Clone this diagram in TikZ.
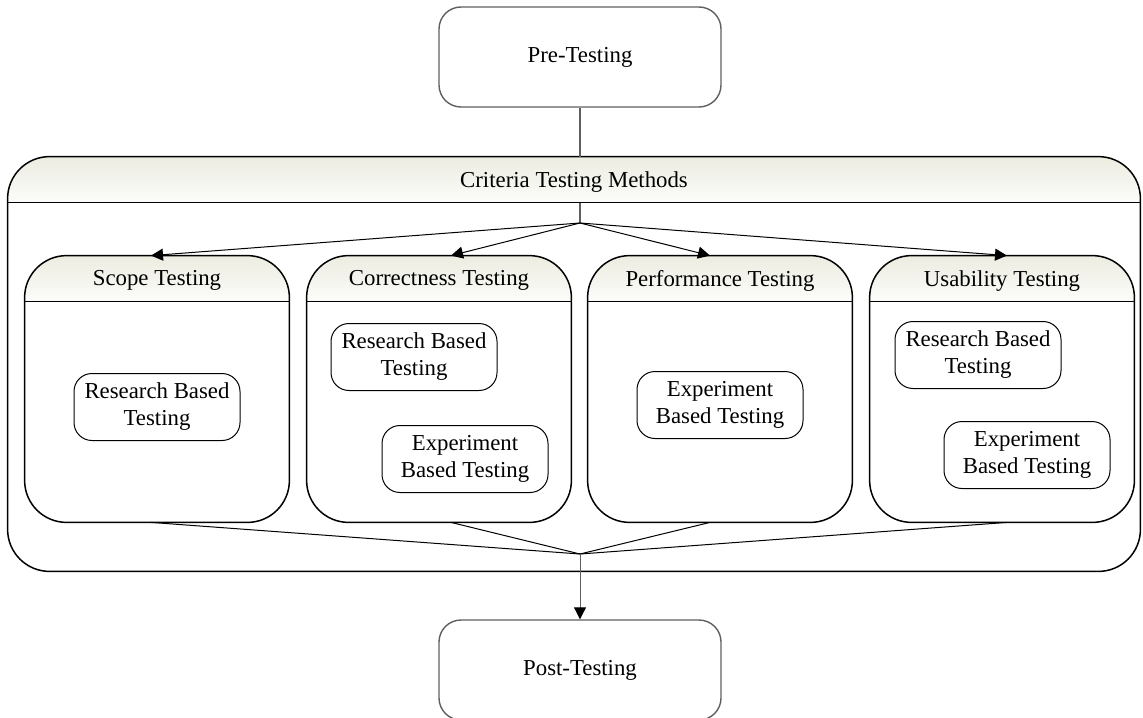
\documentclass[tikz,border=0pt]{standalone}
\usepackage{fontspec}
\setmainfont{Liberation Serif}
\usetikzlibrary{shapes,arrows.meta,positioning}

\definecolor{hdrtop}{RGB}{236,236,225}
\definecolor{hdrbot}{RGB}{252,252,250}
\definecolor{framegray}{RGB}{95,95,95}

\begin{document}
\begin{tikzpicture}[x=0.5pt, y=-0.5pt, font=\fontsize{11.4}{13.5}\selectfont]

    % Define block styles
    \tikzstyle{block} = [rectangle, draw=framegray, line width=0.7pt,
        text centered, rounded corners=11pt, minimum width=141pt, minimum height=50pt]
    \tikzstyle{frame} = [rectangle, inner sep=0pt, minimum width=132pt, minimum height=133pt]
    \tikzstyle{method} = [rectangle, draw, line width=0.5pt, rounded corners=9pt,
        align=center, inner sep=0pt, minimum width=83pt, minimum height=33.5pt]
    \tikzstyle{hdr} = [top color=hdrtop, bottom color=hdrbot]
    \tikzstyle{border} = [draw, line width=0.75pt, rounded corners=21pt]
    \tikzstyle{line} = [draw, line width=0.5pt, -{Triangle[length=6pt, width=6pt, color=black]}]
    \tikzstyle{link} = [draw, framegray, line width=0.7pt]

    \useasboundingbox (0,0) rectangle (1143,717);

    % Place nodes
    \node [block] (pre) at (580,57) {Pre-Testing};
    \node [block] (post) at (580,670) {Post-Testing};
    \node [frame, minimum width=566pt, minimum height=207pt] (crit) at (574,364) {};
    \node [frame] (scope) at (157,389) {};
    \node [frame] (correct) at (439,389) {};
    \node [frame] (perf) at (720,389) {};
    \node [frame] (usab) at (1002,389) {};

    % Headers and borders
    \foreach \grp/\title in {crit/Criteria Testing Methods, scope/Scope Testing,
        correct/Correctness Testing, perf/Performance Testing, usab/Usability Testing} {
        \begin{scope}
            \clip [rounded corners=21pt] (\grp.north west) rectangle (\grp.south east);
            \shade [hdr] (\grp.north west) rectangle ([yshift=-23pt]\grp.north east);
        \end{scope}
        \draw [line width=0.75pt] ([yshift=-23pt]\grp.north west) -- ([yshift=-23pt]\grp.north east);
        \path [border] (\grp.north west) rectangle (\grp.south east);
        \node at ([yshift=-12.5pt]\grp.north) {\title};
    }

    \node [method] (scoperes) at (157,407) {Research Based\\Testing};
    \node [method] (correctres) at (414,357) {Research Based\\Testing};
    \node [method] (correctexp) at (465,459) {Experiment\\Based Testing};
    \node [method] (perfexp) at (720,405) {Experiment\\Based Testing};
    \node [method] (usabres) at (978,355) {Research Based\\Testing};
    \node [method] (usabexp) at (1027,455) {Experiment\\Based Testing};

    \coordinate (split) at (580,203);
    \coordinate (fan) at (580,223);
    \coordinate (merge) at (580,554);

    % Draw edges
    \path [link] (pre.south) -- (pre.south |- crit.north);
    \path [link] (split) -- (fan);
    \foreach \grp/\shift in {scope/-3pt, correct/6pt, perf/-5pt, usab/2.5pt} {
        \path [line] (fan) -- ([xshift=\shift]\grp.north);
        \draw [line width=0.5pt] ([xshift=\shift]\grp.south) -- (merge);
    }
    \path [line, framegray] (merge) -- (post);

\end{tikzpicture}
\end{document}
